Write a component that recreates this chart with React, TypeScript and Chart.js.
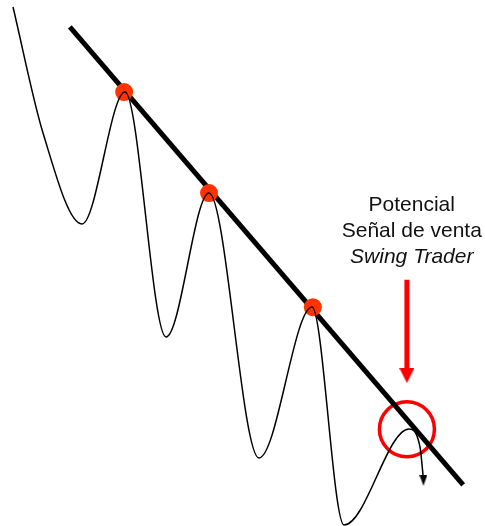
import React, { useEffect, useRef } from 'react';
import { Chart, registerables } from 'chart.js';

Chart.register(...registerables);

// Price path (time units 0..100, price units 0..100): start, then alternating swing lows / highs
const priceX = [2.68, 8.87, 16.91, 25.77, 34.23, 43.09, 53.40, 64.33, 70.93, 84.33, 86.60, 87.22];
const priceY = [98.67, 74.71, 57.41, 82.51, 35.93, 63.31, 12.93, 41.63, 0.19, 18.44, 15.02, 9.70];

// Swing highs touching the trend line
const highX = [25.6, 43.1, 64.5];
const highY = [82.5, 63.3, 41.6];

// Descending trend line
const trendX = [14.4, 95.5];
const trendY = [94.9, 7.8];

// Potential sell signal (circled)
const signalX = [83.9];
const signalY = [18.4];

// Red pointer arrow (shaft start/end, head)
const pointerX = [83.9, 83.9];
const pointerY = [46.8, 29.0];
const pointerHeadY = [28.6];

// Small arrow at end of price path
const endHeadX = [87.3];
const endHeadY = [8.7];

// Annotation text
const labelLines = ['Potencial', 'Señal de venta', 'Swing Trader'];
const labelItalic = [false, false, true];
const labelX = 84.9;
const labelY = [59.9, 54.9, 50.0];

const zip = (xs: number[], ys: number[]) => xs.map((x, i) => ({ x, y: ys[i] }));

function makeArrowHead(w: number, h: number, color: string) {
  const c = document.createElement('canvas');
  c.width = w;
  c.height = h;
  const g = c.getContext('2d')!;
  g.fillStyle = color;
  g.beginPath();
  g.moveTo(0, 0);
  g.lineTo(w, 0);
  g.lineTo(w / 2, h);
  g.closePath();
  g.fill();
  return c;
}

export default function App() {
  const ref = useRef<HTMLCanvasElement | null>(null);

  useEffect(() => {
    if (!ref.current) return;
    const redHead = makeArrowHead(15, 15, '#ff0000');
    const blackHead = makeArrowHead(8, 11, '#000000');

    const textPlugin = {
      id: 'labelText',
      afterDatasetsDraw(chart: any) {
        const ctx = chart.ctx;
        const xs = chart.scales.x;
        const ys = chart.scales.y;
        ctx.save();
        ctx.fillStyle = '#111111';
        ctx.textAlign = 'center';
        ctx.textBaseline = 'alphabetic';
        labelLines.forEach((t, i) => {
          ctx.font = (labelItalic[i] ? 'italic ' : '') + '21px "Liberation Sans", Arial, sans-serif';
          ctx.fillText(t, xs.getPixelForValue(labelX), ys.getPixelForValue(labelY[i]));
        });
        ctx.restore();
      },
    };

    const chart = new Chart(ref.current, {
      type: 'line',
      data: {
        datasets: [
          {
            data: zip(priceX, priceY),
            borderColor: '#000000',
            borderWidth: 1.5,
            pointRadius: 0,
            cubicInterpolationMode: 'monotone',
            fill: false,
            clip: false,
            order: 0,
          },
          {
            data: zip(endHeadX, endHeadY),
            showLine: false,
            pointStyle: blackHead as any,
            pointRadius: 5,
            clip: false,
            order: 0,
          },
          {
            data: zip(highX, highY),
            showLine: false,
            pointRadius: 9,
            pointBackgroundColor: '#ff3300',
            pointBorderWidth: 0,
            clip: false,
            order: 1,
          },
          {
            data: zip(trendX, trendY),
            borderColor: '#000000',
            borderWidth: 5,
            borderCapStyle: 'butt',
            pointRadius: 0,
            clip: false,
            order: 2,
          },
          {
            data: zip(signalX, signalY),
            showLine: false,
            pointRadius: 27.5,
            pointBorderColor: '#ff0000',
            pointBorderWidth: 3.5,
            pointBackgroundColor: 'rgba(0,0,0,0)',
            clip: false,
            order: 3,
          },
          {
            data: zip(pointerX, pointerY),
            borderColor: '#ff0000',
            borderWidth: 5,
            borderCapStyle: 'butt',
            pointRadius: 0,
            clip: false,
            order: 3,
          },
          {
            data: zip([pointerX[1]], pointerHeadY),
            showLine: false,
            pointStyle: redHead as any,
            pointRadius: 5,
            clip: false,
            order: 3,
          },
        ] as any,
      },
      options: {
        responsive: false,
        animation: false,
        events: [],
        layout: { padding: 0, autoPadding: false },
        plugins: { legend: { display: false }, tooltip: { enabled: false } },
        scales: {
          x: { type: 'linear', min: 0, max: 100, display: false },
          y: { type: 'linear', min: 0, max: 100, display: false },
        },
      },
      plugins: [textPlugin],
    });
    return () => chart.destroy();
  }, []);

  return (
    <div style={{ position: 'absolute', left: 0, top: 0, width: 485, height: 526, background: '#ffffff' }}>
      <canvas ref={ref} width={485} height={526} style={{ display: 'block' }} />
    </div>
  );
}
